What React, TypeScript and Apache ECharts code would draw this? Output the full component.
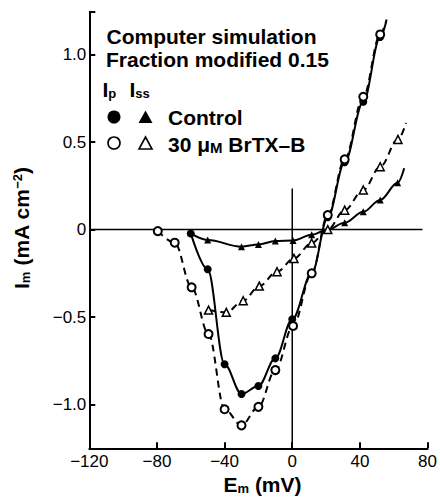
import { useEffect, useRef } from 'react';
import * as echarts from 'echarts';

// Axis ticks
const xTicks = [-120, -80, -40, 0, 40, 80];
const yTickLabels = [-1.0, -0.5, 0, 0.5, 1.0];
const yTickMarks = [-1.0, -0.5, 0, 0.5, 1.0, 1.245];

// Control, peak current Ip (filled circles, solid)
const ctrlIpE = [-60, -50, -40, -30, -20, -10, 0, 11.5, 21, 31, 42, 52, 55.6];
const ctrlIpI = [-0.022, -0.227, -0.77, -0.94, -0.894, -0.736, -0.513, -0.25, 0.07, 0.385, 0.73, 1.1, 1.19];
// BrTX-B, peak current Ip (open circles, dashed)
const brtxIpE = [-79.5, -69.5, -59.5, -49.5, -40, -30, -20, -10, 0.5, 11.5, 21, 31, 42, 52, 55.8];
const brtxIpI = [-0.009, -0.075, -0.33, -0.597, -1.027, -1.119, -1.013, -0.803, -0.551, -0.25, 0.083, 0.401, 0.759, 1.115, 1.2];
// Control, steady-state current Iss (filled triangles, solid)
const ctrlIssE = [-60, -50, -30, -20, -10, 0.5, 11.5, 21, 31, 42, 52, 62.3, 66.2];
const ctrlIssI = [-0.022, -0.06, -0.098, -0.085, -0.066, -0.062, -0.03, 0.0, 0.039, 0.102, 0.169, 0.267, 0.35];
// BrTX-B, steady-state current Iss (open triangles, dashed)
const brtxIssE = [-49.5, -39, -29, -19.5, -9, 1, 11.5, 21, 31, 42, 52, 62.5, 67.3];
const brtxIssI = [-0.46, -0.473, -0.407, -0.323, -0.241, -0.165, -0.077, 0.0, 0.111, 0.226, 0.359, 0.515, 0.61];

// Reference lines
const zeroCurrentLineE = [-120, 77];
const zeroVoltageLineI = [0.235, -1.25];

const FONT = '"Liberation Sans", Arial, Helvetica, sans-serif';

function pairs(xs: number[], ys: number[], unmarked: number[]) {
  return xs.map((x, i) => {
    const item: any = { value: [x, ys[i]] };
    if (unmarked.includes(i)) item.symbol = 'none';
    return item;
  });
}

export default function App() {
  const ref = useRef<HTMLDivElement>(null);
  useEffect(() => {
    if (!ref.current) return;
    const chart = echarts.init(ref.current, undefined, { renderer: 'svg' });
    const b = { fontSize: 21, fontWeight: 'bold', fontFamily: FONT, lineHeight: 21, color: '#000' };
    const sub = { fontSize: 13, fontWeight: 'bold', fontFamily: FONT, lineHeight: 5, verticalAlign: 'bottom', color: '#000' };
    const sup = { fontSize: 13, fontWeight: 'bold', fontFamily: FONT, lineHeight: 12, verticalAlign: 'top', color: '#000' };
    const sc = { fontSize: 15, fontWeight: 'bold', fontFamily: FONT, lineHeight: 17, verticalAlign: 'bottom', color: '#000' };
    const fmt = (v: number, d: number) => (v === 0 ? '0' : v < 0 ? '\u2212' + Math.abs(v).toFixed(d) : v.toFixed(d));
    const solid = { color: '#000', width: 2, type: 'solid' };
    const dashed = { color: '#000', width: 2, type: [7, 5] };
    const option: any = {
      animation: false,
      backgroundColor: '#fff',
      grid: { left: 89.3, right: 9.3, top: 11.7, bottom: 48.7 },
      xAxis: {
        type: 'value',
        min: -120,
        max: 80,
        interval: 40,
        splitLine: { show: false },
        axisLine: { show: true, onZero: false, lineStyle: { color: '#000', width: 2 } },
        axisTick: { show: true, inside: true, length: 6, lineStyle: { color: '#000', width: 2 }, customValues: xTicks },
        axisLabel: {
          color: '#000', fontSize: 17, fontFamily: FONT, margin: 5,
          customValues: xTicks,
          formatter: (v: number) => fmt(v, 0),
        },
      },
      yAxis: {
        type: 'value',
        min: -1.25,
        max: 1.245,
        splitLine: { show: false },
        axisLine: { show: true, onZero: false, lineStyle: { color: '#000', width: 2 } },
        axisTick: { show: true, inside: true, length: 6, lineStyle: { color: '#000', width: 2 }, customValues: yTickMarks },
        axisLabel: {
          color: '#000', fontSize: 17, fontFamily: FONT, margin: 3,
          customValues: yTickLabels,
          formatter: (v: number) => fmt(v, 1),
        },
      },
      series: [
        {
          type: 'line', data: zeroCurrentLineE.map((e) => [e, 0]), symbol: 'none',
          lineStyle: { color: '#000', width: 1.5 }, silent: true,
        },
        {
          type: 'line', data: zeroVoltageLineI.map((i) => [0, i]), symbol: 'none',
          lineStyle: { color: '#000', width: 1.5 }, silent: true,
        },
        {
          name: 'Control Iss', type: 'line', smooth: 0.35, smoothMonotone: 'x',
          data: pairs(ctrlIssE, ctrlIssI, [0, ctrlIssE.length - 1]),
          symbol: 'triangle', symbolSize: 7, showAllSymbol: true,
          itemStyle: { color: '#000' }, lineStyle: solid,
        },
        {
          name: '30 μM BrTX-B Iss', type: 'line', smooth: 0.35, smoothMonotone: 'x',
          data: pairs(brtxIssE, brtxIssI, [brtxIssE.length - 1]),
          symbol: 'triangle', symbolSize: 8, showAllSymbol: true,
          itemStyle: { color: '#fff', borderColor: '#000', borderWidth: 1.5 }, lineStyle: dashed,
        },
        {
          name: 'Control Ip', type: 'line', smooth: 0.35, smoothMonotone: 'x',
          data: pairs(ctrlIpE, ctrlIpI, [ctrlIpE.length - 1]),
          symbol: 'circle', symbolSize: 8, showAllSymbol: true,
          itemStyle: { color: '#000' }, lineStyle: solid,
        },
        {
          name: '30 μM BrTX-B Ip', type: 'line', smooth: 0.35, smoothMonotone: 'x',
          data: pairs(brtxIpE, brtxIpI, [brtxIpE.length - 1]),
          symbol: 'circle', symbolSize: 8, showAllSymbol: true,
          itemStyle: { color: '#fff', borderColor: '#000', borderWidth: 2 }, lineStyle: dashed,
        },
      ],
      graphic: [
        { type: 'text', x: 106.5, y: 44 - 7.3, style: { text: 'Computer simulation', fontSize: 21, fontWeight: 'bold', fontFamily: FONT, fill: '#000', align: 'left', verticalAlign: 'middle' } },
        { type: 'text', x: 106, y: 66.7 - 7.3, style: { text: 'Fraction modified 0.15', fontSize: 21, fontWeight: 'bold', fontFamily: FONT, fill: '#000', align: 'left', verticalAlign: 'middle' } },
        { type: 'text', x: 102.5, y: 97 - 7.3, style: { text: '{b|I}{s|p}', rich: { b, s: sub }, align: 'left', verticalAlign: 'middle' } },
        { type: 'text', x: 129.5, y: 97 - 7.3, style: { text: '{b|I}{s|ss}', rich: { b, s: sub }, align: 'left', verticalAlign: 'middle' } },
        { type: 'circle', shape: { cx: 114, cy: 117, r: 6.5 }, style: { fill: '#000' } },
        { type: 'polygon', shape: { points: [[145.5, 110.5], [152.5, 123], [138.5, 123]] }, style: { fill: '#000' } },
        { type: 'text', x: 168, y: 125 - 7.3, style: { text: 'Control', fontSize: 21, fontWeight: 'bold', fontFamily: FONT, fill: '#000', align: 'left', verticalAlign: 'middle' } },
        { type: 'circle', shape: { cx: 114, cy: 143, r: 6 }, style: { fill: '#fff', stroke: '#000', lineWidth: 1.6 } },
        { type: 'polygon', shape: { points: [[145.5, 137], [152, 149], [139, 149]] }, style: { fill: '#fff', stroke: '#000', lineWidth: 1.6 } },
        { type: 'text', x: 168, y: 151.7 - 7.3, style: { text: '{b|30 μ}{c|M}{b| BrTX–B}', rich: { b, c: sc }, align: 'left', verticalAlign: 'middle' } },
        { type: 'text', x: 262.5, y: 484.5, style: { text: '{b|E}{s|m}{b| (mV)}', rich: { b, s: sub }, align: 'center', verticalAlign: 'middle' } },
        { type: 'text', x: 21, y: 228, rotation: Math.PI / 2, style: { text: '{b|I}{s|m}{b| (mA cm}{p|\u22122}{b|)}', rich: { b, s: sub, p: sup }, align: 'center', verticalAlign: 'middle' } },
      ],
    };
    chart.setOption(option);
    return () => chart.dispose();
  }, []);
  return (
    <div
      ref={ref}
      style={{ position: 'fixed', left: 0, top: 0, width: 440, height: 497, background: '#fff' }}
    />
  );
}
